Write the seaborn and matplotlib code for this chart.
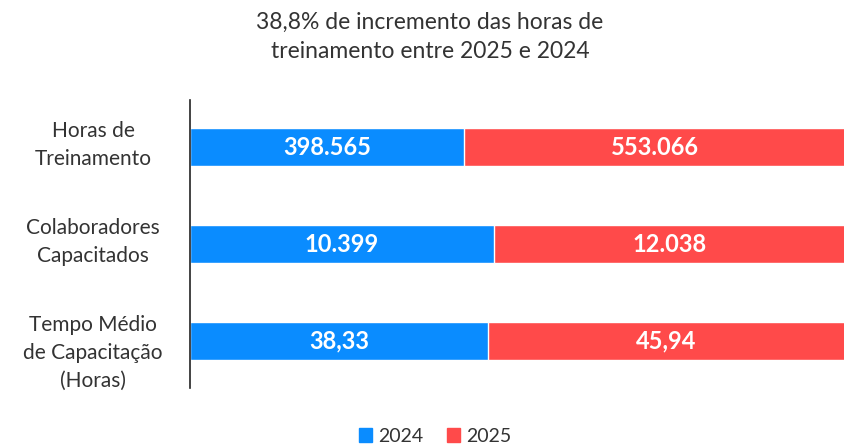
import pandas as pd
import matplotlib.pyplot as plt
import matplotlib.transforms as mtransforms
import seaborn as sns

# dados
categorias = ["Horas de\nTreinamento", "Colaboradores\nCapacitados", "Tempo Médio\nde Capacitação\n(Horas)"]
valores_2024 = [398565, 10399, 38.33]
valores_2025 = [553066, 12038, 45.94]
rotulos_2024 = ["398.565", "10.399", "38,33"]
rotulos_2025 = ["553.066", "12.038", "45,94"]
titulo = "38,8% de incremento das horas de\ntreinamento entre 2025 e 2024"

AZUL = "#0A8CFF"
VERMELHO = "#FF4A4A"
TEXTO = "#333333"

sns.set_theme(style="white")
plt.rcParams["font.family"] = ["Lato", "DejaVu Sans"]

df = pd.DataFrame({"categoria": categorias, "v2024": valores_2024, "v2025": valores_2025})
df["total"] = df["v2024"] + df["v2025"]
df["p2024"] = df["v2024"] / df["total"]
df["p_total"] = 1.0

fig = plt.figure(figsize=(8.45, 4.44), dpi=100)
ax = fig.add_axes([190 / 845, 56 / 444, 655 / 845, 288 / 444])

# barra total (2025) por baixo, 2024 por cima
sns.barplot(data=df, y="categoria", x="p_total", color=VERMELHO, saturation=1,
            width=0.39, ax=ax, orient="h")
sns.barplot(data=df, y="categoria", x="p2024", color=AZUL, saturation=1,
            width=0.39, ax=ax, orient="h")

for i, row in df.iterrows():
    ax.text(row["p2024"] / 2, i, rotulos_2024[i], ha="center", va="center",
            color="white", fontsize=17, fontweight="bold")
    ax.text(row["p2024"] + (1 - row["p2024"]) / 2, i, rotulos_2025[i], ha="center",
            va="center", color="white", fontsize=17, fontweight="bold")

ax.set_xlim(0, 1)
ax.set_ylim(2.485, -0.485)
ax.set_xlabel("")
ax.set_ylabel("")
ax.set_xticks([])
ax.set_yticklabels([])
ax.tick_params(axis="y", length=0)

# rótulos das categorias: alinhados pelo topo, um pouco acima do centro da barra
trans = mtransforms.blended_transform_factory(ax.transAxes, ax.transData)
desloc = mtransforms.ScaledTranslation(0, 26 / 100, fig.dpi_scale_trans)
for i, cat in enumerate(categorias):
    ax.text(-0.148, i, cat, transform=trans + desloc, ha="center", va="top",
            multialignment="center", fontsize=15, color=TEXTO, linespacing=1.5)

for s in ["top", "right", "bottom"]:
    ax.spines[s].set_visible(False)
ax.spines["left"].set_color("#222222")
ax.spines["left"].set_linewidth(1.2)

fig.text(430 / 845, 1 - 37 / 444, titulo, ha="center", va="center",
         fontsize=16.5, color=TEXTO, linespacing=1.5)

handles = [plt.Rectangle((0, 0), 1, 1, color=AZUL), plt.Rectangle((0, 0), 1, 1, color=VERMELHO)]
fig.legend(handles, ["2024", "2025"], loc="center", bbox_to_anchor=(435 / 845, 1 - 436 / 444),
           ncol=2, frameon=False, fontsize=14, handlelength=0.7, handleheight=0.7,
           handletextpad=0.3, columnspacing=1.2, labelcolor=TEXTO)

fig.savefig("out.png", dpi=100)
